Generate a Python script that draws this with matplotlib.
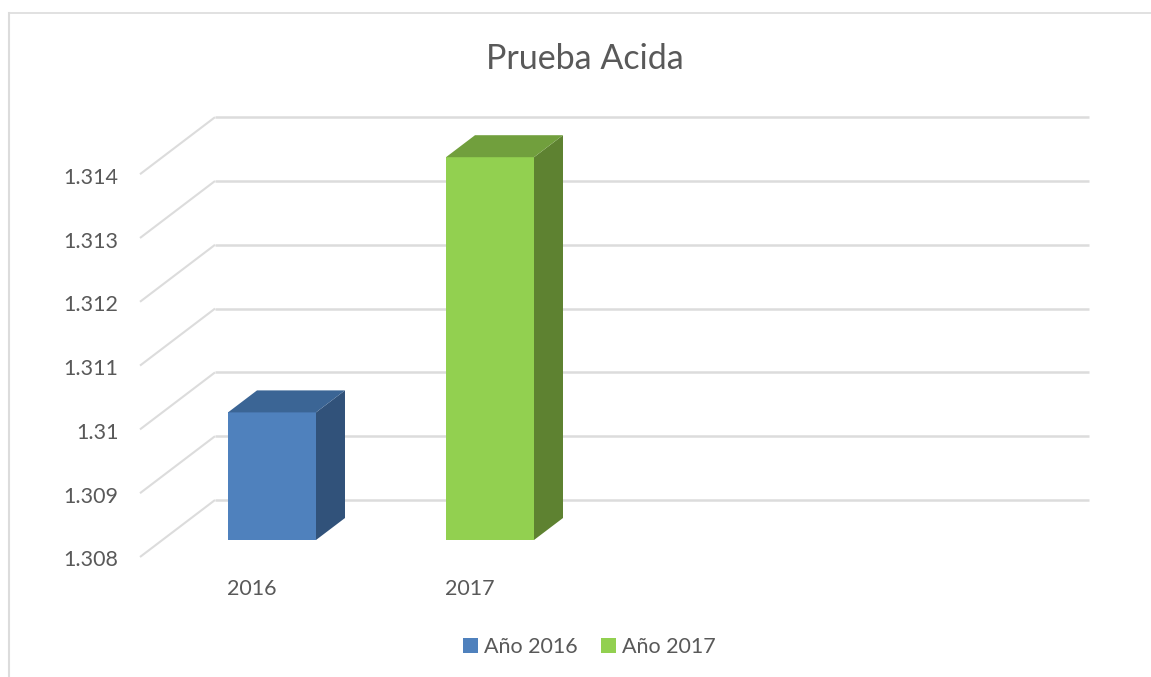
import matplotlib
matplotlib.use("Agg")
import matplotlib.pyplot as plt
from matplotlib.patches import Polygon, Patch

# Data
categories = ["2016", "2017"]
series_names = ["Año 2016", "Año 2017"]
values = [1.310, 1.314]
y_ticks = [1.308, 1.309, 1.310, 1.311, 1.312, 1.313, 1.314]
y_tick_labels = ["1.308", "1.309", "1.31", "1.311", "1.312", "1.313", "1.314"]
title = "Prueba Acida"

# Style
face_cols = ["#4F81BD", "#92D050"]
side_cols = ["#31527A", "#5E8231"]
top_cols = ["#3B6595", "#719F3D"]
grid_col = "#DCDCDC"
text_col = "#595959"
plt.rcParams["font.family"] = ["Lato", "DejaVu Sans"]

W, H = 1151, 677
fig = plt.figure(figsize=(W / 100, H / 100), dpi=100, facecolor="white")
ax = fig.add_axes([0, 0, 1, 1])
ax.axis("off")

# Value axis: 1.308 sits on pixel row 540 of the bar plane, 63.8 px per 0.001
PX_PER_VAL = 63800.0
PX_PER_CAT = 218.0
X0_PX, Y0_PX = 272.0, 540.0
ax.set_xlim(-X0_PX / PX_PER_CAT, (W - X0_PX) / PX_PER_CAT)
ax.set_ylim(y_ticks[0] - (H - Y0_PX) / PX_PER_VAL, y_ticks[0] + Y0_PX / PX_PER_VAL)

def dx(px):
    return px / PX_PER_CAT

def dy(px):
    return px / PX_PER_VAL

# Wall gridlines (x positions as category units, y as value +/- depth offset)
x_front = dx(140 - X0_PX)
x_back = dx(215 - X0_PX)
x_end = dx(1089 - X0_PX)
for v in y_ticks:
    ax.plot([x_front, x_back], [v - dy(17), v + dy(40)], color=grid_col, lw=1.5,
            solid_capstyle="butt", zorder=1)
    ax.plot([x_back, x_end], [v + dy(40), v + dy(40)], color=grid_col, lw=1.8,
            solid_capstyle="butt", zorder=1)
    label = y_tick_labels[y_ticks.index(v)]
    ax.text(dx(118.5 - X0_PX), v - dy(20.5), label, ha="right", va="center",
            fontsize=15.5, color=text_col)

# 3D bars
half = dx(44)
depth_x, depth_y = dx(29), dy(22)
base = y_ticks[0]
for i, v in enumerate(values):
    l, r = i - half, i + half
    ax.add_patch(Polygon([(l, base), (r, base), (r, v), (l, v)], closed=True,
                         fc=face_cols[i], ec="none", zorder=3))
    ax.add_patch(Polygon([(r, base), (r + depth_x, base + depth_y),
                          (r + depth_x, v + depth_y), (r, v)], closed=True,
                         fc=side_cols[i], ec="none", zorder=3))
    ax.add_patch(Polygon([(l, v), (r, v), (r + depth_x, v + depth_y),
                          (l + depth_x, v + depth_y)], closed=True,
                         fc=top_cols[i], ec="none", zorder=3))
    ax.text(l - dx(1), base - dy(49), categories[i], ha="left", va="center",
            fontsize=15.5, color=text_col)

# Title
fig.text(584.5 / W, 1 - 59 / H, title, ha="center", va="center", fontsize=24.5, color=text_col)

# Legend
handles = [Patch(fc=c, ec="none", label=n) for c, n in zip(face_cols, series_names)]
fig.legend(handles=handles, loc="center", bbox_to_anchor=(589.5 / W, 1 - 647 / H), ncol=2,
           frameon=False, fontsize=15.5, labelcolor=text_col, handlelength=0.68,
           handleheight=0.68, handletextpad=0.3, columnspacing=1.07, borderpad=0)

# Chart frame (open at right and bottom)
fig.add_artist(plt.Line2D([8.5 / W, 8.5 / W], [0, 1 - 12.5 / H], color=grid_col, lw=1.5))
fig.add_artist(plt.Line2D([8.5 / W, 1], [1 - 12.5 / H, 1 - 12.5 / H], color=grid_col, lw=1.2))

fig.savefig("out.png", dpi=100)
